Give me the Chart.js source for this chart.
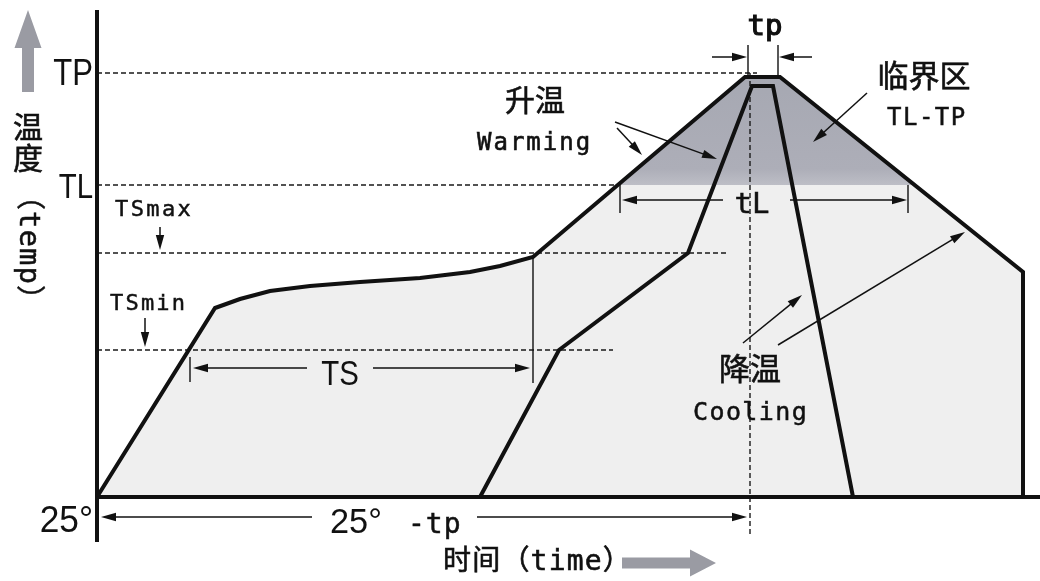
<!DOCTYPE html>
<html>
<head>
<meta charset="utf-8">
<script src="https://cdn.jsdelivr.net/npm/chart.js@4.4.1/dist/chart.umd.min.js"></script>
<style>
  html, body { margin: 0; padding: 0; background: #fff; }
  #wrap { width: 1040px; height: 581px; position: relative; }
</style>
</head>
<body>
<div id="wrap"><canvas id="c"></canvas></div>
<script>
// schematic reflow profile: x = time units, y = temperature units (25 at the floor)
const outerTime = [0, 59, 71.5, 86.5, 106.5, 131.5, 161.5, 186.5, 201.5, 218, 324, 341.5, 463, 463];
const outerTemp = [25, 119.5, 124, 128, 130.5, 132.5, 134.5, 137.5, 140.5, 145, 235, 235, 137.5, 25];
const innerTime = [191.5, 231, 295.5, 327.5, 338, 378];
const innerTemp = [25, 98.5, 147, 230.5, 230.5, 25];
const levelNames = ['TP', 'TL', 'TSmax', 'TSmin'];
const levelTemps = [237, 181, 147, 98.5];
const levelEnds = [330, 260.5, 315.5, 258];
const zoneTime = [260.4, 324, 341.5, 408.8];
const zoneTemp = [181, 235, 235, 181];
const peakTime = 326.5;
const xMax = 470, yMin = 25, yMax = 268.5;

const NARROW = '"Liberation Sans", Arial, sans-serif';
const MONO = '"DejaVu Sans Mono", "Noto Sans CJK SC", monospace';
const CJK = '"Noto Sans CJK SC", sans-serif';

const pts = (xs, ys) => xs.map((x, i) => ({ x, y: ys[i] }));

const blackLine = { borderColor: '#111', borderWidth: 4, pointRadius: 0, fill: false, borderJoinStyle: 'miter', clip: false };
const dashLine = { borderColor: '#1a1a1a', borderWidth: 1.4, borderDash: [5, 3], pointRadius: 0, fill: false, clip: false };

// --- annotations drawn with the chart scales ---
const drawing = {
  id: 'drawing',
  afterDatasetsDraw(chart) {
    const c = chart.ctx;
    const X = v => chart.scales.x.getPixelForValue(v);
    const Y = v => chart.scales.y.getPixelForValue(v);

    function line(x1, y1, x2, y2, w) {
      c.lineWidth = w;
      c.beginPath(); c.moveTo(X(x1), Y(y1)); c.lineTo(X(x2), Y(y2)); c.stroke();
    }
    function arrow(x1, y1, x2, y2) {
      const ax = X(x1), ay = Y(y1), bx = X(x2), by = Y(y2);
      const a = Math.atan2(by - ay, bx - ax), L = 15, H = 4.2;
      c.lineWidth = 1.5;
      c.beginPath(); c.moveTo(ax, ay); c.lineTo(bx - Math.cos(a) * L * 0.7, by - Math.sin(a) * L * 0.7); c.stroke();
      c.beginPath();
      c.moveTo(bx, by);
      c.lineTo(bx - L * Math.cos(a) + H * Math.sin(a), by - L * Math.sin(a) - H * Math.cos(a));
      c.lineTo(bx - L * Math.cos(a) - H * Math.sin(a), by - L * Math.sin(a) + H * Math.cos(a));
      c.closePath(); c.fill();
    }
    function txt(s, x, y, font, align, sx, sp, base, bold) {
      c.save();
      c.font = font; c.textAlign = align || 'left'; c.textBaseline = base || 'alphabetic';
      c.letterSpacing = (sp || 0) + 'px';
      c.translate(X(x), Y(y)); c.scale(sx || 1, 1);
      c.fillText(s, 0, 0);
      if (bold) { c.lineWidth = bold; c.strokeText(s, 0, 0); }
      c.restore();
    }

    c.save();
    c.strokeStyle = '#111'; c.fillStyle = '#111'; c.lineCap = 'butt';

    // axes
    line(0, yMax, 0, 2.5, 4);
    c.lineWidth = 4;
    c.beginPath(); c.moveTo(X(0) - 2, Y(yMin)); c.lineTo(chart.width, Y(yMin)); c.stroke();

    // tp
    line(325.5, 236, 325.5, 251, 1.4); line(340.5, 236, 340.5, 251, 1.4);
    arrow(307.5, 245, 325, 245); arrow(357.5, 245, 341, 245);
    // tL
    line(261.5, 181, 261.5, 167, 1.4); line(405.5, 181, 405.5, 167, 1.4);
    arrow(313, 173.5, 262.5, 173.5); arrow(346.5, 173.5, 405, 173.5);
    // TS
    line(46.5, 95, 46.5, 82.5, 1.4); line(218, 145, 218, 82, 1.4);
    arrow(105, 89.5, 48, 89.5); arrow(138, 89.5, 216.5, 89.5);
    // 25° - tp
    arrow(107.5, 15, 2, 15); arrow(190, 15, 325, 15);
    // TSmax / TSmin pointers
    arrow(31.5, 160, 31.5, 148.5); arrow(24, 114.5, 24, 100);
    // warming / critical / cooling pointers
    arrow(259, 212.5, 310, 194); arrow(260, 209.5, 272.5, 196);
    arrow(385, 227, 358, 202.5);
    arrow(323, 102, 352.5, 126); arrow(340.5, 101, 434, 157.5);

    // labels
    c.fillStyle = '#111';
    txt(levelNames[0], -2, 231, '37px ' + NARROW, 'right', 0.84);
    txt(levelNames[1], -2, 174.5, '35px ' + NARROW, 'right', 0.84);
    txt('25°', -2, 7.5, '36px ' + NARROW, 'right', 0.98);
    txt(levelNames[2], 9, 165.5, '22px ' + MONO, 'left', 1, 2.4, 'alphabetic', 0.5);
    txt(levelNames[3], 6.5, 118.5, '22px ' + MONO, 'left', 1, 2.2, 'alphabetic', 0.5);
    txt('TS', 121.5, 81, '35px ' + NARROW, 'center', 0.84);
    txt('25°', 116.5, 7, '35px ' + NARROW, 'left', 0.98);
    txt('-tp', 155.5, 7, '28px ' + MONO, 'left', 1, 1, 'alphabetic', 0.5);
    txt('tp', 334, 256, '29px ' + MONO, 'center', 1, 0, 'alphabetic', 1.2);
    txt('tL', 327.5, 167, '29px ' + MONO, 'center', 1, 0, 'alphabetic', 0.5);
    txt('升温', 219, 223.5, '30px ' + CJK, 'center', 1, 0, 'middle', 0.6);
    txt('Warming', 190, 198.5, '24px ' + MONO, 'left', 1, 2, 'alphabetic', 0.6);
    txt('临界区', 413.5, 236, '31px ' + CJK, 'center', 1, 0, 'middle', 0.6);
    txt('TL-TP', 395, 211, '24px ' + MONO, 'left', 1, 1.5, 'alphabetic', 0.5);
    txt('降温', 326.5, 89.5, '31px ' + CJK, 'center', 1, 0, 'middle', 0.6);
    txt('Cooling', 298, 63.5, '25px ' + MONO, 'left', 1, 1.4, 'alphabetic', 0.5);

    // axis titles
    txt('温', -34.5, 210, '30px ' + CJK, 'center', 1, 0, 'middle', 0.6);
    txt('度', -34.5, 194.5, '30px ' + CJK, 'center', 1, 0, 'middle', 0.6);
    c.save();
    c.translate(X(-34.5), Y(149.5)); c.rotate(Math.PI / 2);
    c.font = '29px ' + MONO; c.textAlign = 'center'; c.textBaseline = 'middle';
    c.letterSpacing = '1px';
    c.fillText('（temp）', 0, 0);
    c.lineWidth = 0.5; c.strokeText('（temp）', 0, 0);
    c.restore();
    txt('时间（time）', 173, -8, '28px ' + MONO, 'left', 1, 1.2, 'middle', 0.6);

    // grey block arrows
    c.fillStyle = '#9a9ba3';
    let ux = X(-34.5);
    c.beginPath();
    c.moveTo(ux, Y(yMax));
    c.lineTo(ux + 13.5, Y(249.5)); c.lineTo(ux + 6, Y(249.5)); c.lineTo(ux + 6, Y(227.5));
    c.lineTo(ux - 6, Y(227.5)); c.lineTo(ux - 6, Y(249.5)); c.lineTo(ux - 13.5, Y(249.5));
    c.closePath(); c.fill();
    let ry = Y(-8);
    c.beginPath();
    c.moveTo(X(309.5), ry);
    c.lineTo(X(296.5), ry - 13.5); c.lineTo(X(296.5), ry - 5.5); c.lineTo(X(262.5), ry - 5.5);
    c.lineTo(X(262.5), ry + 5.5); c.lineTo(X(296.5), ry + 5.5); c.lineTo(X(296.5), ry + 13.5);
    c.closePath(); c.fill();

    c.restore();
  }
};

const zoneFill = ctx => {
  const chart = ctx.chart;
  if (!chart.chartArea) return '#a9aab4';
  const y = chart.scales.y;
  const g = chart.ctx.createLinearGradient(0, y.getPixelForValue(zoneTemp[1]), 0, y.getPixelForValue(zoneTemp[0]));
  g.addColorStop(0, '#a6a8b2');
  g.addColorStop(0.85, '#adaeb8');
  g.addColorStop(1, '#bdbec6');
  return g;
};

new Chart(document.getElementById('c'), {
  type: 'line',
  data: {
    datasets: [
      { data: pts(outerTime, outerTemp), ...blackLine, order: 1 },
      { data: pts(innerTime, innerTemp), ...blackLine, order: 2 },
      ...levelTemps.map((t, i) => ({ data: [{ x: 0, y: t }, { x: levelEnds[i], y: t }], ...dashLine, order: 3 })),
      { data: [{ x: peakTime, y: levelTemps[0] }, { x: peakTime, y: 6 }], ...dashLine, order: 3 },
      { data: pts(zoneTime, zoneTemp), borderColor: 'rgba(0,0,0,0)', borderWidth: 1, pointRadius: 0,
        fill: { value: levelTemps[1] }, backgroundColor: zoneFill, order: 8 },
      { data: pts(outerTime, outerTemp), borderColor: 'rgba(0,0,0,0)', borderWidth: 1, pointRadius: 0,
        fill: 'start', backgroundColor: '#efefef', order: 9 }
    ]
  },
  options: {
    responsive: true,
    maintainAspectRatio: false,
    animation: false,
    layout: { padding: { left: 97, right: 3, top: 10, bottom: 84 } },
    plugins: { legend: { display: false }, tooltip: { enabled: false } },
    scales: {
      x: { type: 'linear', min: 0, max: xMax, display: false },
      y: { type: 'linear', min: yMin, max: yMax, display: false }
    }
  },
  plugins: [drawing]
});
</script>
</body>
</html>
